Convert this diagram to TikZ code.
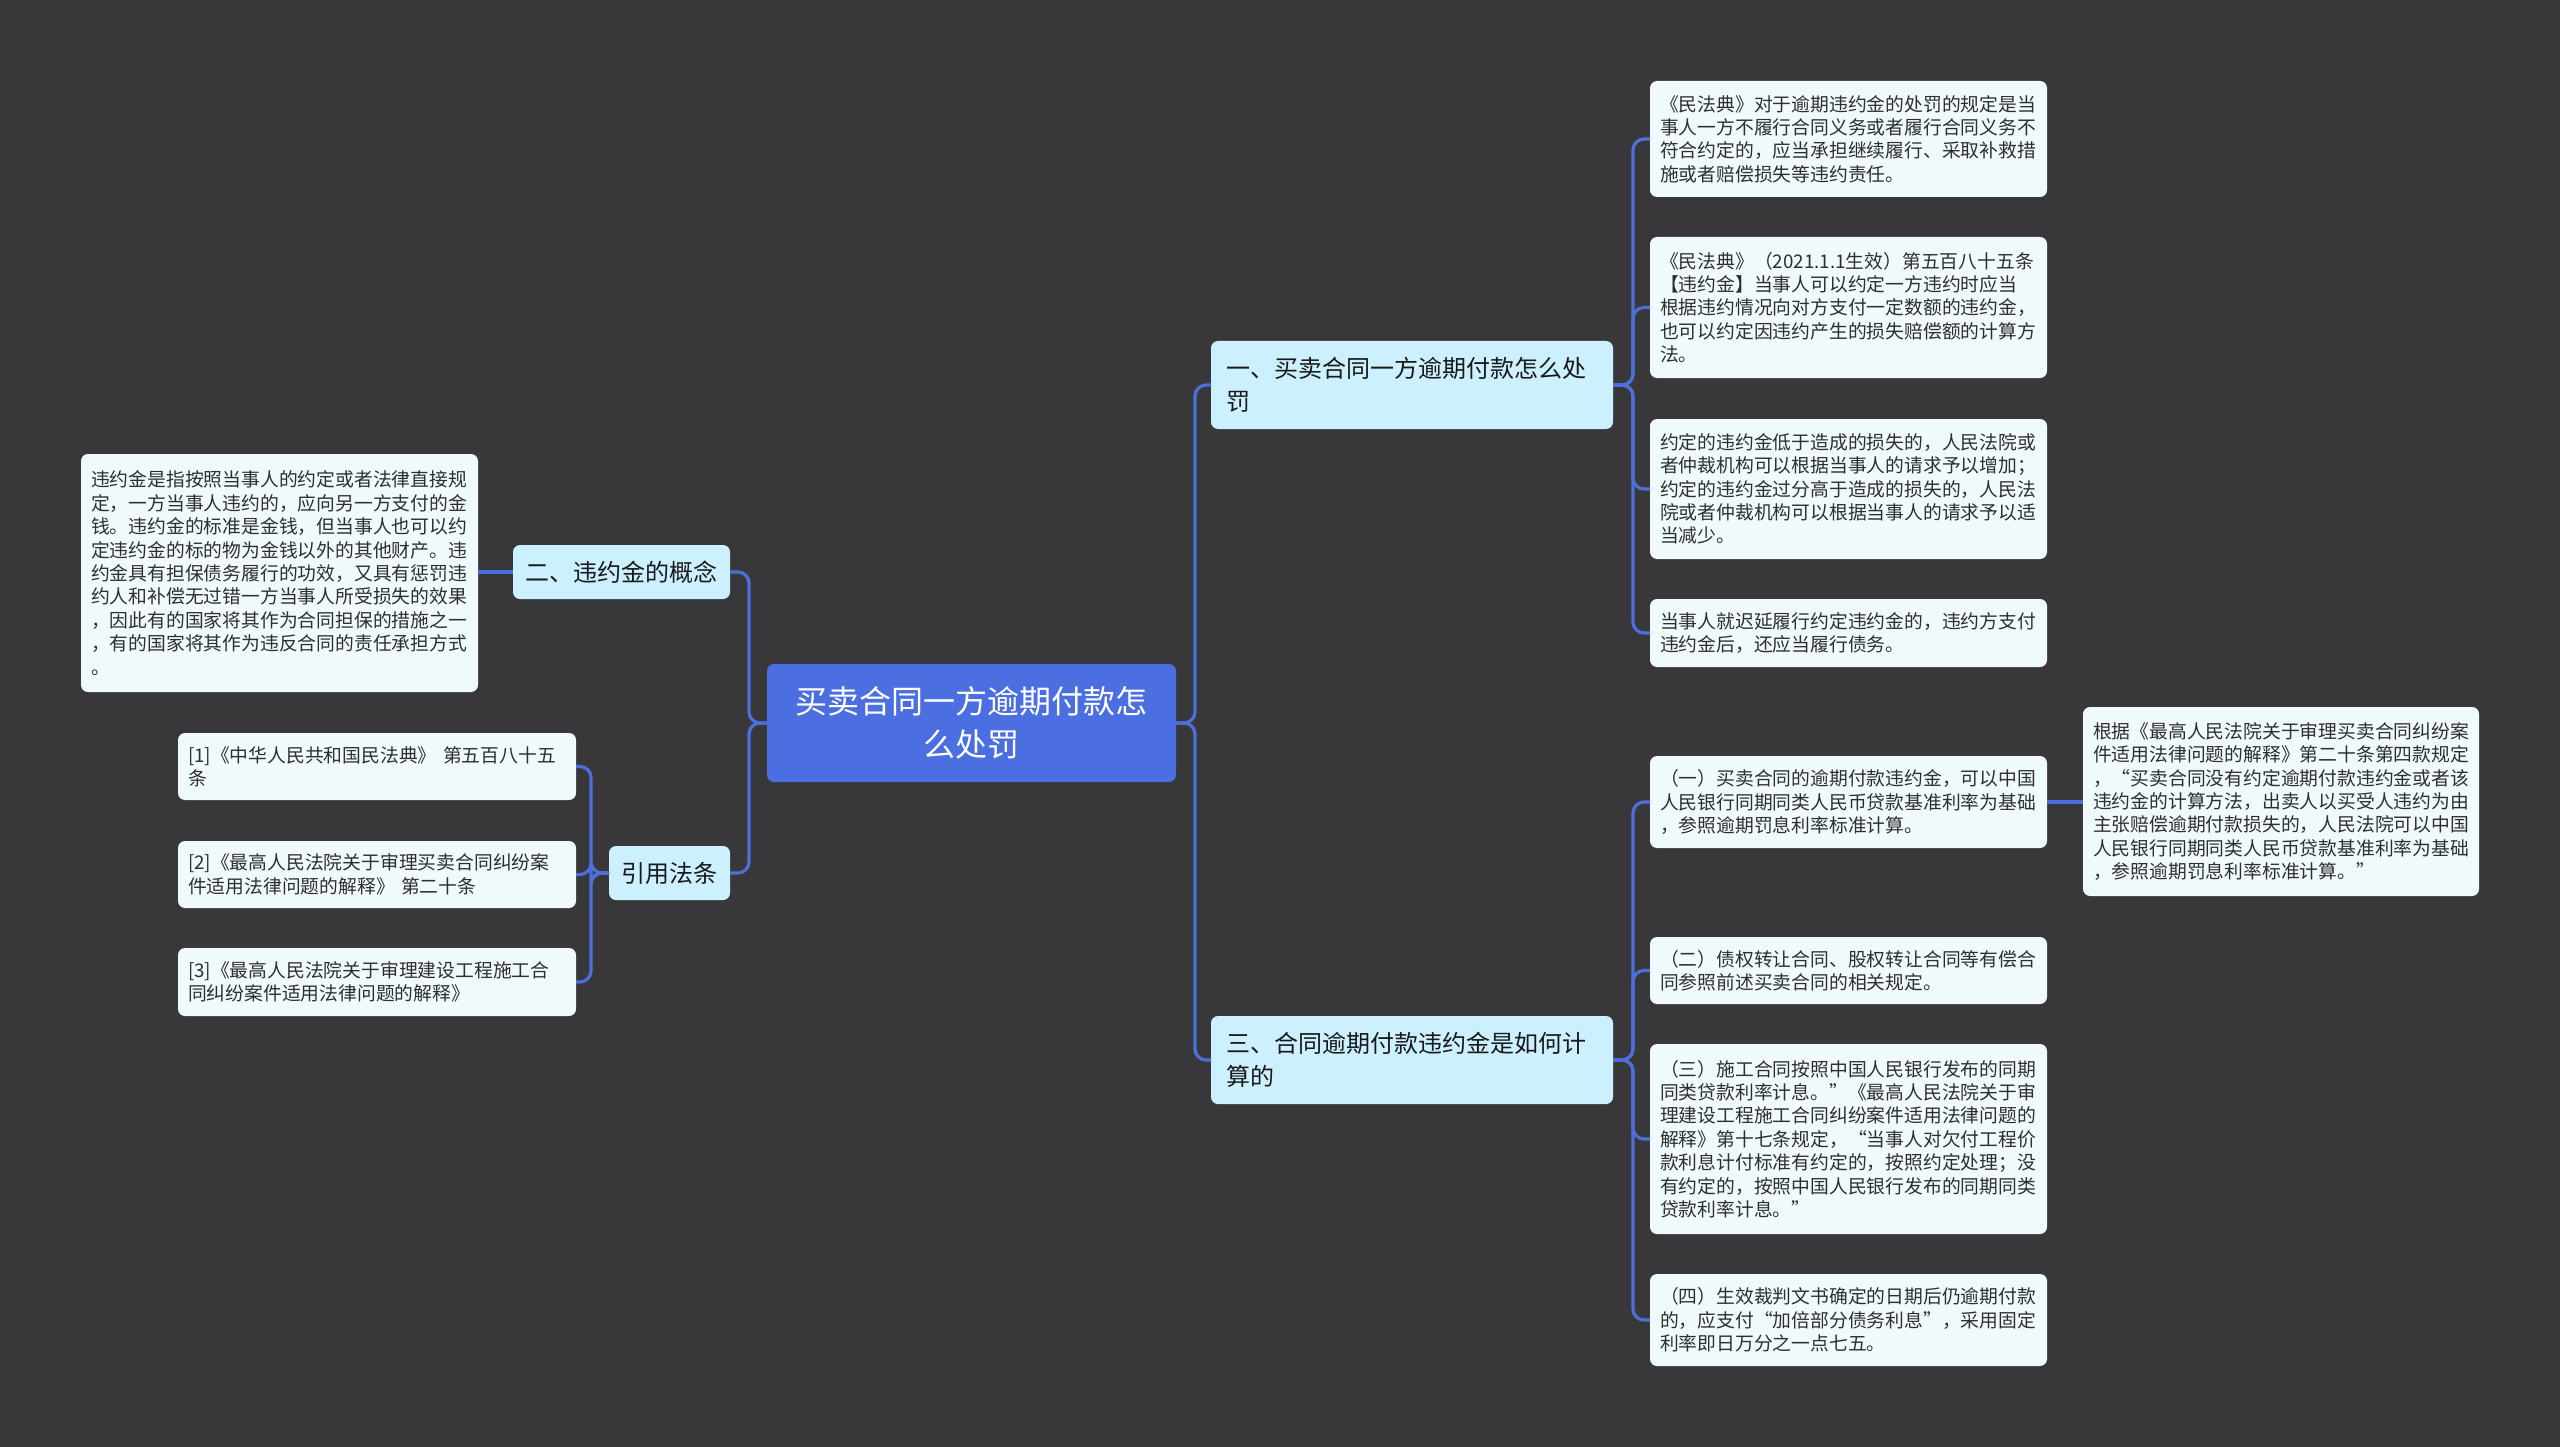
\documentclass[tikz,border=0pt]{standalone}
\usepackage{fontspec}
\setmainfont{Noto Sans CJK SC}
\definecolor{bg}{HTML}{38373A}
\definecolor{rootfill}{HTML}{4B6EE0}
\definecolor{branchfill}{HTML}{CCF0FD}
\definecolor{leaffill}{HTML}{F0FAFD}
\definecolor{conncol}{HTML}{4D6FDC}
\definecolor{leaftext}{HTML}{2E2E2E}
\begin{document}
\begin{tikzpicture}[x=1pt,y=-1pt,
  base/.style={rounded corners=7pt, anchor=north west, inner ysep=0pt, outer sep=0pt},
  leaf/.style={base, fill=leaffill, text=leaftext, align=left, inner xsep=10pt,
    text width=377pt, font=\fontsize{18.8pt}{23.4pt}\selectfont},
  branch/.style={base, fill=branchfill, text=black!90, align=left, inner xsep=15pt,
    font=\fontsize{24pt}{32.6pt}\selectfont},
  rootbox/.style={base, fill=rootfill, text=white, align=center, inner xsep=20pt,
    text width=369pt, minimum height=118pt, font=\fontsize{32pt}{42.5pt}\selectfont},
  conn/.style={draw=conncol, line width=3.2pt, rounded corners=11pt}
]
\useasboundingbox (0,0) rectangle (2560,1447);
\fill[bg] (0,0) rectangle (2560,1447);

% root
\node[rootbox] (root) at (767,664) {买卖合同一方逾期付款怎\\么处罚};

% right branches
\node[branch, text width=372pt, minimum height=88pt] (b1) at (1211,341) {一、买卖合同一方逾期付款怎么处\\罚};
\node[branch, text width=372pt, minimum height=88pt] (b3) at (1211,1016) {三、合同逾期付款违约金是如何计\\算的};

% left branches
\node[branch, inner xsep=12pt, text width=193pt, minimum height=54pt] (b2) at (513,545) {二、违约金的概念};
\node[branch, inner xsep=12pt, text width=97pt, minimum height=54pt] (b4) at (609,846) {引用法条};

% leaves of branch 1
\node[leaf, minimum height=116pt] (l1) at (1650,81) {《民法典》对于逾期违约金的处罚的规定是当\\事人一方不履行合同义务或者履行合同义务不\\符合约定的，应当承担继续履行、采取补救措\\施或者赔偿损失等违约责任。};
\node[leaf, minimum height=141pt] (l2) at (1650,237) {《民法典》（2021.1.1生效）第五百八十五条\\【违约金】当事人可以约定一方违约时应当\\根据违约情况向对方支付一定数额的违约金，\\也可以约定因违约产生的损失赔偿额的计算方\\法。};
\node[leaf, minimum height=140pt] (l3) at (1650,419) {约定的违约金低于造成的损失的，人民法院或\\者仲裁机构可以根据当事人的请求予以增加；\\约定的违约金过分高于造成的损失的，人民法\\院或者仲裁机构可以根据当事人的请求予以适\\当减少。};
\node[leaf, minimum height=68pt] (l4) at (1650,599) {当事人就迟延履行约定违约金的，违约方支付\\违约金后，还应当履行债务。};

% leaves of branch 3
\node[leaf, minimum height=92pt] (l5) at (1650,756) {（一）买卖合同的逾期付款违约金，可以中国\\人民银行同期同类人民币贷款基准利率为基础\\，参照逾期罚息利率标准计算。};
\node[leaf, minimum height=67pt] (l6) at (1650,937) {（二）债权转让合同、股权转让合同等有偿合\\同参照前述买卖合同的相关规定。};
\node[leaf, minimum height=190pt] (l7) at (1650,1044) {（三）施工合同按照中国人民银行发布的同期\\同类贷款利率计息。”《最高人民法院关于审\\理建设工程施工合同纠纷案件适用法律问题的\\解释》第十七条规定，“当事人对欠付工程价\\款利息计付标准有约定的，按照约定处理；没\\有约定的，按照中国人民银行发布的同期同类\\贷款利率计息。”};
\node[leaf, minimum height=92pt] (l8) at (1650,1274) {（四）生效裁判文书确定的日期后仍逾期付款\\的，应支付“加倍部分债务利息”，采用固定\\利率即日万分之一点七五。};

% far right leaf
\node[leaf, text width=376pt, minimum height=189pt] (fr) at (2083,707) {根据《最高人民法院关于审理买卖合同纠纷案\\件适用法律问题的解释》第二十条第四款规定\\，“买卖合同没有约定逾期付款违约金或者该\\违约金的计算方法，出卖人以买受人违约为由\\主张赔偿逾期付款损失的，人民法院可以中国\\人民银行同期同类人民币贷款基准利率为基础\\，参照逾期罚息利率标准计算。”};

% left concept leaf
\node[leaf, minimum height=238pt] (lc) at (81,454) {违约金是指按照当事人的约定或者法律直接规\\定，一方当事人违约的，应向另一方支付的金\\钱。违约金的标准是金钱，但当事人也可以约\\定违约金的标的物为金钱以外的其他财产。违\\约金具有担保债务履行的功效，又具有惩罚违\\约人和补偿无过错一方当事人所受损失的效果\\，因此有的国家将其作为合同担保的措施之一\\，有的国家将其作为违反合同的责任承担方式\\。};

% references
\node[leaf, text width=378pt, minimum height=67pt] (r1) at (178,733) {[1]《中华人民共和国民法典》 第五百八十五\\条};
\node[leaf, text width=378pt, minimum height=67pt] (r2) at (178,841) {[2]《最高人民法院关于审理买卖合同纠纷案\\件适用法律问题的解释》 第二十条};
\node[leaf, text width=378pt, minimum height=68pt] (r3) at (178,948) {[3]《最高人民法院关于审理建设工程施工合\\同纠纷案件适用法律问题的解释》};

% connectors
\draw[conn] (root.east) -- ++(19,0) |- (b1.west);
\draw[conn] (root.east) -- ++(19,0) |- (b3.west);
\draw[conn] (root.west) -- ++(-18,0) |- (b2.east);
\draw[conn] (root.west) -- ++(-18,0) |- (b4.east);

\foreach \n in {l1,l2,l3,l4}
  \draw[conn] (b1.east) -- ++(20,0) |- (\n.west);
\foreach \n in {l5,l6,l7,l8}
  \draw[conn] (b3.east) -- ++(20,0) |- (\n.west);

\draw[conn] (l5.east) -- (l5.east -| fr.west);
\draw[conn] (b2.west) -- (b2.west -| lc.east);

\foreach \n in {r1,r2,r3}
  \draw[conn] (b4.west) -- ++(-18,0) |- (\n.east);
\end{tikzpicture}
\end{document}
